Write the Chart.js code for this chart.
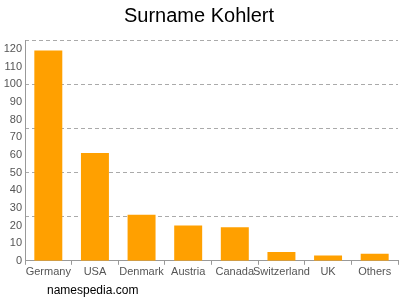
<!DOCTYPE html>
<html>
<head>
<meta charset="utf-8">
<script src="https://cdn.jsdelivr.net/npm/chart.js@4/dist/chart.umd.min.js"></script>
<style>
    html, body { margin: 0; padding: 0; background: #fff; }
    #wrap { position: relative; width: 400px; height: 300px; }
    #credit {
        position: absolute; left: 47px; top: 283px;
        font: 12px "Liberation Sans", Arial, sans-serif; color: #000;
    }
</style>
</head>
<body>
<div id="wrap">
    <canvas id="chart" width="400" height="300"></canvas>
    <div id="credit">namespedia.com</div>
</div>
<script>
const countries = ['Germany', 'USA', 'Denmark', 'Austria', 'Canada', 'Switzerland', 'UK', 'Others'];
const counts = [119, 61, 26, 20, 19, 5, 3, 4];
const yMax = 125;
const yTicks = [0, 10, 20, 30, 40, 50, 60, 70, 80, 90, 100, 110, 120];
const gridTicks = [25, 50, 75, 100, 125];

document.addEventListener('DOMContentLoaded', function() {
    const ctx = document.getElementById('chart').getContext('2d');
    new Chart(ctx, {
        type: 'bar',
        data: {
            labels: countries,
            datasets: [{
                data: counts,
                backgroundColor: '#ffa000',
                barPercentage: 0.6,
                categoryPercentage: 1
            }]
        },
        options: {
            responsive: false,
            animation: false,
            devicePixelRatio: 1,
            layout: { padding: { left: 0, right: 2, top: 0, bottom: 20 } },
            plugins: {
                legend: { display: false },
                tooltip: { enabled: false },
                title: {
                    display: true,
                    text: 'Surname Kohlert',
                    color: '#000',
                    font: { family: 'Liberation Sans', size: 20, weight: 'normal' },
                    padding: { top: 4, bottom: 12 }
                }
            },
            scales: {
                x: {
                    grid: { display: true, drawOnChartArea: false, tickLength: 4, color: '#999' },
                    border: { color: '#999' },
                    ticks: {
                        color: '#555',
                        font: { family: 'Liberation Sans', size: 11 },
                        maxRotation: 0,
                        autoSkip: false,
                        padding: 1
                    }
                },
                y: {
                    min: 0,
                    max: yMax,
                    afterBuildTicks: axis => { axis.ticks = yTicks.map(v => ({ value: v })); },
                    afterFit: axis => { axis.width = 25; },
                    grid: { display: false, drawTicks: false },
                    border: { color: '#999' },
                    ticks: {
                        autoSkip: false,
                        color: '#555',
                        font: { family: 'Liberation Sans', size: 11 },
                        padding: 3
                    }
                },
                yGrid: {
                    position: 'left',
                    min: 0,
                    max: yMax,
                    afterBuildTicks: axis => { axis.ticks = gridTicks.map(v => ({ value: v })); },
                    afterFit: axis => { axis.width = 0; },
                    ticks: { display: false },
                    border: { display: false, dash: [4, 3] },
                    grid: { color: '#aaa', drawTicks: false }
                }
            }
        }
    });
});
</script>
</body>
</html>
